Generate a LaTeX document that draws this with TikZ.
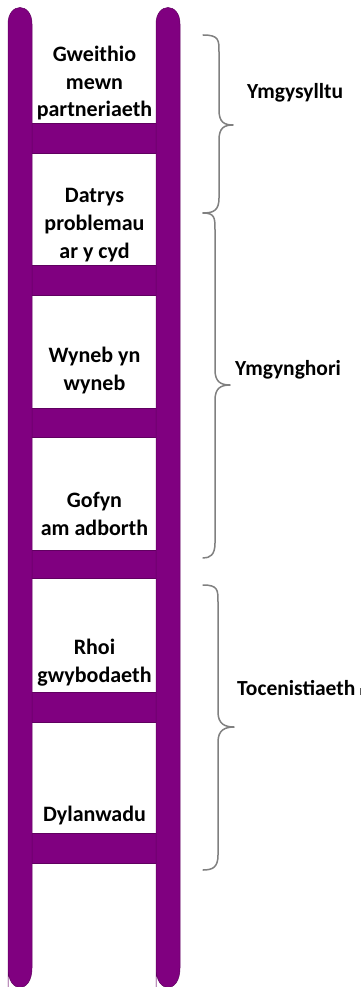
\documentclass[tikz,border=0pt]{standalone}
\usepackage{fontspec}
\setmainfont{Carlito}
\definecolor{ladder}{RGB}{128,0,128}
\definecolor{bracegray}{RGB}{128,128,128}
\tikzset{
  railpart/.style={fill=ladder, draw=ladder!75!black, line width=0.5pt},
  rungpart/.style={fill=ladder, draw=ladder!75!black, line width=0.5pt},
  steptext/.style={align=center, font=\fontsize{22}{27.5}\selectfont\bfseries, inner sep=0pt, anchor=base},
  bracetext/.style={font=\fontsize{21.5}{26}\selectfont\bfseries, inner sep=0pt, anchor=base west},
  bracepath/.style={draw=bracegray, line width=1.5pt, line cap=round, line join=round}
}
\begin{document}
\begin{tikzpicture}[x=1pt,y=-1pt]
\useasboundingbox (0,0) rectangle (362,987);
\fill[white] (0,0) rectangle (362,987);
\begin{scope}
\clip (0,0) rectangle (362,987);
% rungs
\foreach \y/\h in {123/30, 265/30, 408/29, 550/28, 692/30, 833/30}{
  \path[rungpart] (31,\y) rectangle (157,\y+\h);
}
% rails
\path[railpart] (8,990) -- (8,24) .. controls (8,2) and (32,2) .. (32,24) -- (32,968) .. controls (32,994) and (8,994) .. (8,968) -- cycle;
\path[railpart] (156,990) -- (156,24) .. controls (156,2) and (180,2) .. (180,24) -- (180,968) .. controls (180,994) and (156,994) .. (156,968) -- cycle;
\end{scope}
% step texts (anchor = baseline of last line)
\node[steptext] (s1) at (94.5,117) {Gweithio\\mewn\\partneriaeth};
\node[steptext] (s2) at (94.5,258) {Datrys\\problemau\\ar y cyd};
\node[steptext] (s3) at (94.5,390) {Wyneb yn\\wyneb};
\node[steptext] (s4) at (94.5,535) {Gofyn\\am adborth};
\node[steptext] (s5) at (94.5,682) {Rhoi\\gwybodaeth};
\node[steptext] (s6) at (94.5,821) {Dylanwadu};
% braces
\draw[bracepath] (203,35) .. controls (219,35) and (219,40) .. (219,52) -- (219,110) .. controls (219,122) and (224,125) .. (233,125) .. controls (224,125) and (219,128) .. (219,140) -- (219,198) .. controls (219,210) and (214,213) .. (203,213);
\draw[bracepath] (203,213) .. controls (215,213) and (215,218) .. (215,230) -- (215,370) .. controls (215,382) and (221,385) .. (230,385) .. controls (221,385) and (215,388) .. (215,400) -- (215,543) .. controls (215,555) and (210,558) .. (203,558);
\draw[bracepath] (203,585) .. controls (218,585) and (218,590) .. (218,602) -- (218,712) .. controls (218,724) and (225,727) .. (234,727) .. controls (225,727) and (218,730) .. (218,742) -- (218,855) .. controls (218,867) and (213,870) .. (203,870);
% labels
\node[bracetext] (l1) at (247,99) {Ymgysylltu};
\node[bracetext] (l2) at (235,375) {Ymgynghori};
\node[bracetext] (l3) at (237,695) {Tocenistiaeth};
\draw[bracegray!70!black, line width=1pt] (360.5,688) -- (360.5,695);
\end{tikzpicture}
\end{document}
